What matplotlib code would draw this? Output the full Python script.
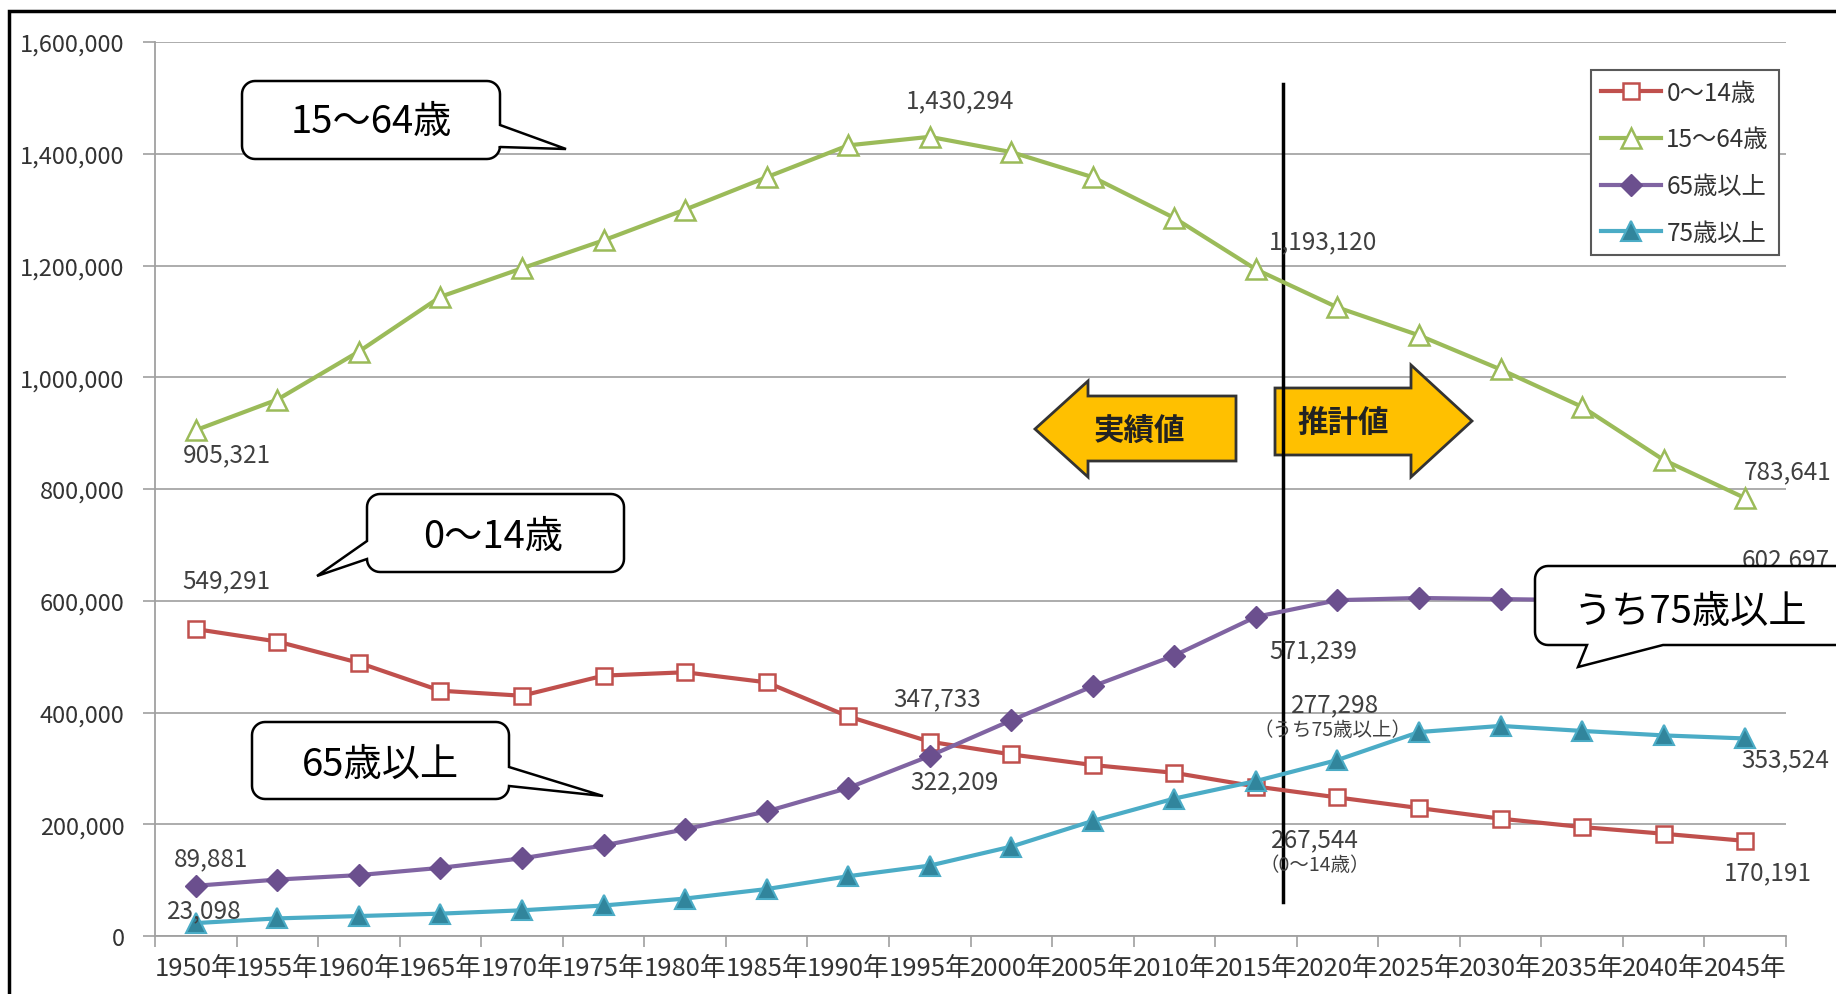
import numpy as np
import matplotlib
matplotlib.use("Agg")
import matplotlib.pyplot as plt
from matplotlib.patches import Polygon, Rectangle
from matplotlib.ticker import StrMethodFormatter

plt.rcParams['font.family'] = ['Noto Sans CJK JP', 'DejaVu Sans']

# 年次と年齢区分別人口
years = [1950, 1955, 1960, 1965, 1970, 1975, 1980, 1985, 1990, 1995,
         2000, 2005, 2010, 2015, 2020, 2025, 2030, 2035, 2040, 2045]
year_labels = [f"{y}年" for y in years]

pop_0_14 = [549291, 527000, 489000, 439000, 430000, 466000, 472000, 454000, 393000, 347733,
            325000, 306000, 292000, 267544, 248000, 229000, 210000, 195000, 183000, 170191]
pop_15_64 = [905321, 960000, 1046000, 1144000, 1195000, 1245000, 1300000, 1358000, 1415000, 1430294,
             1403000, 1358000, 1285000, 1193120, 1125000, 1075000, 1014000, 947000, 852000, 783641]
pop_65 = [89881, 101000, 109000, 122000, 139000, 162000, 191000, 223000, 265000, 322209,
          386000, 447000, 502000, 571239, 601000, 605000, 603000, 601000, 602000, 602697]
pop_75 = [23098, 31500, 35700, 40000, 46000, 54600, 67000, 84000, 107000, 126000,
          160000, 206000, 246000, 277298, 315000, 365000, 376000, 367000, 359000, 353524]

series_names = ['0～14歳', '15～64歳', '65歳以上', '75歳以上']

W, H = 1836, 995
fig = plt.figure(figsize=(W / 100, H / 100), dpi=100)
ax = fig.add_axes([155 / W, 1 - 937 / H, (1786 - 155) / W, (937 - 43) / H])


def fpt(x, y):
    # pixel position (top-left origin) -> figure fraction
    return (x / W, 1 - y / H)


x = np.arange(len(years))
ax.plot(x, pop_0_14, color='#C0504D', lw=3, marker='s', ms=12, mfc='white',
        mec='#C0504D', mew=1.8, label=series_names[0], zorder=5)
ax.plot(x, pop_15_64, color='#9BBB59', lw=3, marker='^', ms=14, mfc='white',
        mec='#9BBB59', mew=1.8, label=series_names[1], zorder=5)
ax.plot(x, pop_65, color='#8064A2', lw=3, marker='D', ms=11, mfc='#6B4F8E',
        mec='#6B4F8E', label=series_names[2], zorder=5)
ax.plot(x, pop_75, color='#4BACC6', lw=3, marker='^', ms=14, mfc='#31859C',
        mec='#4BACC6', mew=1.5, label=series_names[3], zorder=5)

ax.set_xlim(-0.5, len(years) - 0.5)
ax.set_ylim(0, 1600000)
ax.set_yticks(np.arange(0, 1600001, 200000))
ax.yaxis.set_major_formatter(StrMethodFormatter('{x:,.0f}'))
ax.set_xticks(x)
ax.set_xticklabels(year_labels)
ax.set_xticks(np.arange(-0.5, len(years), 1), minor=True)
ax.tick_params(axis='x', which='major', length=0, pad=14, labelsize=18.5, labelcolor='#333333')
ax.tick_params(axis='x', which='minor', length=8, width=1.2, color='#A0A0A0')
ax.tick_params(axis='y', length=9, width=1.2, color='#A0A0A0', pad=13,
               labelsize=17, labelcolor='#333333')
ax.grid(axis='y', color='#A6A6A6', lw=1.3, zorder=0)
ax.set_axisbelow(True)
for s in ['top', 'right']:
    ax.spines[s].set_visible(False)
for s in ['left', 'bottom']:
    ax.spines[s].set_color('#A0A0A0')
    ax.spines[s].set_linewidth(1.3)

# 実績値 / 推計値 の境界線
ax.axvline(13.33, ymin=0.038, ymax=0.953, color='black', lw=2.5, zorder=4)

# データラベル (offset in pixels from the point)
lab_kw = dict(textcoords='offset pixels', ha='center', va='center',
              fontsize=17.5, color='#404040', zorder=6)
label_specs = [
    (pop_15_64, 0, 31, -24), (pop_0_14, 0, 31, 49), (pop_65, 0, 15, 28), (pop_75, 0, 9, 13),
    (pop_15_64, 9, 30, 37), (pop_0_14, 9, 7, 43), (pop_65, 9, 25, -25),
    (pop_15_64, 13, 67, 28), (pop_65, 13, 57, -33), (pop_75, 13, 79, 77), (pop_0_14, 13, 59, -53),
    (pop_15_64, 19, 42, 27), (pop_65, 19, 40, 40), (pop_75, 19, 40, -21), (pop_0_14, 19, 23, -31),
]
for vals, i, dx, dy in label_specs:
    ax.annotate(f"{vals[i]:,}", (i, vals[i]), xytext=(dx, dy), **lab_kw)
sub_kw = dict(textcoords='offset pixels', ha='center', va='center',
              fontsize=14, color='#404040', zorder=6)
ax.annotate('（うち75歳以上）', (13, pop_75[13]), xytext=(77, 52), **sub_kw)
ax.annotate('（0～14歳）', (13, pop_0_14[13]), xytext=(59, -78), **sub_kw)

# 矢印
arrow_left = [(1035, 430), (1088, 382), (1088, 397), (1236, 397), (1236, 462), (1088, 462), (1088, 478)]
arrow_right = [(1275, 389), (1411, 389), (1411, 366), (1472, 422), (1411, 478), (1411, 456), (1275, 456)]
for pts in (arrow_left, arrow_right):
    ax.add_patch(Polygon([fpt(*p) for p in pts], closed=True, transform=fig.transFigure,
                         facecolor='#FFC000', edgecolor='#333333', lw=2, zorder=3, clip_on=False))
fig.text(*fpt(1139, 432), '実績値', ha='center', va='center', fontsize=22,
         fontweight='bold', color='#222222', zorder=4)
fig.text(*fpt(1343, 423), '推計値', ha='center', va='center', fontsize=22,
         fontweight='bold', color='#222222', zorder=4)


def bubble(x0, y0, x1, y1, side, a, b, tip, r=13):
    pts = []

    def arc(cx, cy, t0, t1):
        return [(cx + r * np.cos(t), cy + r * np.sin(t)) for t in np.linspace(t0, t1, 10)]
    pts += arc(x0 + r, y0 + r, np.pi, 1.5 * np.pi)
    pts += arc(x1 - r, y0 + r, 1.5 * np.pi, 2 * np.pi)
    if side == 'right':
        pts += [(x1, a), tip, (x1, b)]
    pts += arc(x1 - r, y1 - r, 0, 0.5 * np.pi)
    if side == 'bottom':
        pts += [(b, y1), tip, (a, y1)]
    pts += arc(x0 + r, y1 - r, 0.5 * np.pi, np.pi)
    if side == 'left':
        pts += [(x0, b), tip, (x0, a)]
    return Polygon([fpt(*p) for p in pts], closed=True, transform=fig.transFigure,
                   facecolor='white', edgecolor='black', lw=1.8, zorder=7)


callouts = [
    ('15～64歳', (242, 82, 500, 160, 'right', 126, 148, (566, 150)), (371, 122)),
    ('0～14歳', (367, 495, 624, 573, 'left', 542, 560, (317, 577)), (493, 538)),
    ('65歳以上', (252, 723, 509, 800, 'right', 768, 787, (603, 797)), (380, 765)),
    ('うち75歳以上', (1535, 567, 1900, 646, 'bottom', 1587, 1663, (1578, 668)), (1690, 612)),
]
for text, geo, pos in callouts:
    fig.add_artist(bubble(*geo))
    fig.text(*fpt(*pos), text, ha='center', va='center', fontsize=27.5, color='black', zorder=8)

leg = ax.legend(loc='upper left', bbox_to_anchor=fpt(1591, 71), bbox_transform=fig.transFigure,
                fontsize=17.5, frameon=True, fancybox=False, edgecolor='#595959', framealpha=1,
                borderaxespad=0, handlelength=2.5, handletextpad=0.2, labelspacing=0.85,
                borderpad=0.4)
leg.get_frame().set_linewidth(1.5)
leg.set_zorder(6)
for t in leg.get_texts():
    t.set_color('#333333')

# 外枠
fig.add_artist(Rectangle(fpt(9, 1100), 2000 / W, 1088 / H, transform=fig.transFigure,
                         fill=False, edgecolor='black', lw=2.5, zorder=10))

fig.savefig('out.png', dpi=100)
